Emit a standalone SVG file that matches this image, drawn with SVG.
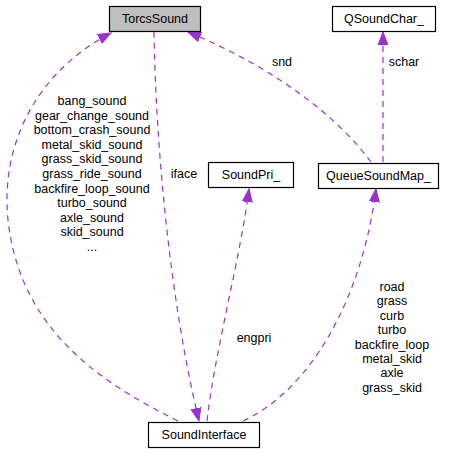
<svg xmlns="http://www.w3.org/2000/svg" width="454" height="453" viewBox="0 0 454 453">
<defs>
<style>
.box{fill:#ffffff;stroke:#000000;stroke-width:1.2}
.gray{fill:#bfbfbf}
.t{font-family:"Liberation Sans",Arial,sans-serif;font-size:12.5px;fill:#000000;text-anchor:middle}
.e{fill:none;stroke:#9a32cd;stroke-width:1.2;stroke-dasharray:6,5;marker-end:url(#ah)}
</style>
<marker id="ah" markerUnits="userSpaceOnUse" markerWidth="14" markerHeight="12" refX="13" refY="5" orient="auto" viewBox="0 0 14 10">
<path d="M0,0 L13,5 L0,10 Z" fill="#9a32cd" stroke="#9a32cd"/>
</marker>
</defs>
<rect width="454" height="453" fill="#ffffff"/>
<g id="edges">
<path class="e" d="M178,421 C100,382 20,330 8,220 C0,140 40,70 111,33"/>
<path class="e" d="M154,32 C156,150 170,300 199,421"/>
<path class="e" d="M207,421 C215,350 240,260 249,189"/>
<path class="e" d="M243,421 C310,390 362,300 376,189"/>
<path class="e" d="M371,162 C340,120 280,70 188,32"/>
<path class="e" d="M383,162 L383,32"/>
<g class="t">
<text x="92" y="105">bang_sound</text>
<text x="92" y="119.6">gear_change_sound</text>
<text x="92" y="134.2">bottom_crash_sound</text>
<text x="92" y="148.8">metal_skid_sound</text>
<text x="92" y="163.4">grass_skid_sound</text>
<text x="92" y="178">grass_ride_sound</text>
<text x="92" y="192.6">backfire_loop_sound</text>
<text x="92" y="207.2">turbo_sound</text>
<text x="92" y="221.8">axle_sound</text>
<text x="92" y="236.4">skid_sound</text>
<text x="92" y="251">...</text>
<text x="184" y="178">iface</text>
<text x="254" y="342">engpri</text>
<text x="392" y="291">road</text>
<text x="392" y="305.4">grass</text>
<text x="392" y="319.8">curb</text>
<text x="392" y="334.2">turbo</text>
<text x="392" y="348.6">backfire_loop</text>
<text x="392" y="363">metal_skid</text>
<text x="392" y="377.4">axle</text>
<text x="392" y="391.8">grass_skid</text>
<text x="282" y="66">snd</text>
<text x="404" y="66">schar</text>
</g>
</g>
<g id="TorcsSound">
<rect class="box gray" x="109.5" y="6.5" width="91" height="25"/>
<text class="t" x="155" y="23">TorcsSound</text>
</g>
<g id="QSoundChar_">
<rect class="box" x="332.5" y="6.5" width="103" height="25"/>
<text class="t" x="384" y="23">QSoundChar_</text>
</g>
<g id="SoundPri_">
<rect class="box" x="208.5" y="162.5" width="85" height="25"/>
<text class="t" x="251" y="179">SoundPri_</text>
</g>
<g id="QueueSoundMap_">
<rect class="box" x="318.5" y="163.5" width="120" height="25"/>
<text class="t" x="378.5" y="180">QueueSoundMap_</text>
</g>
<g id="SoundInterface">
<rect class="box" x="148.5" y="422.5" width="111" height="25"/>
<text class="t" x="204" y="439">SoundInterface</text>
</g>
</svg>
